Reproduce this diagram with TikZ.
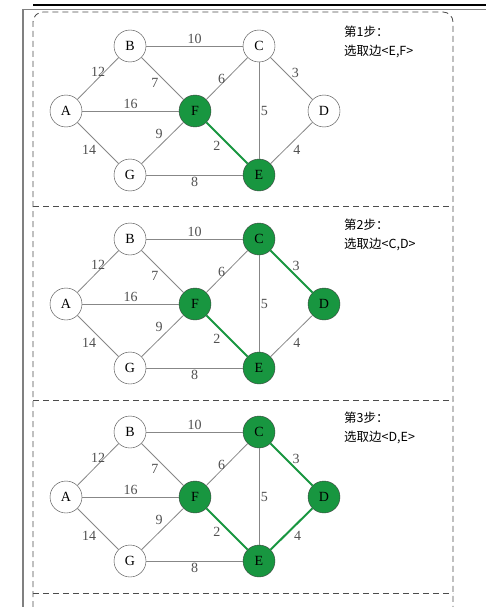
\documentclass[tikz,border=0pt]{standalone}
\usepackage{fontspec}
\setmainfont{Liberation Serif}
\newfontfamily\cjk{Noto Sans CJK SC}
\definecolor{stepgreen}{RGB}{24,150,64}
\definecolor{edgegray}{RGB}{135,135,135}
\definecolor{labelgray}{RGB}{80,80,80}
\begin{document}
\begin{tikzpicture}[x=1pt,y=-1pt,font=\fontsize{14}{16}\selectfont]
        \tikzset{vertex/.style={draw=black!75, circle, minimum size=32pt, inner sep=0pt, fill=white},
                 chosen/.style={vertex, fill=stepgreen},
                 edge/.style={draw=edgegray, line width=0.8pt},
                 tree/.style={draw=stepgreen, line width=2pt},
                 lbl/.style={text=labelgray, inner sep=1.5pt, font=\fontsize{14}{16}\selectfont},
                 note/.style={anchor=north west, align=left, inner sep=0pt, font=\cjk\fontsize{12.5}{19}\selectfont},
                 frame/.style={draw=black!70, line width=0.8pt, dash pattern=on 6pt off 4pt}}
        \useasboundingbox (0,0) rectangle (486,607);
        % page rules and dashed frame
        \draw[line width=2.6pt] (33,5) -- (486,5);
        \draw[black!50, line width=1.3pt] (486,9.5) -- (23,9.5) -- (23,607);
        \draw[frame, rounded corners=10pt] (33,607) -- (33,12) -- (453,12) -- (453,607);
        \draw[frame] (33,206) -- (453,206);
        \draw[frame] (33,400) -- (453,400);
        \draw[frame] (33,593) -- (453,593);
        % step 1
        \node[vertex] (A1) at (66,111) {A};
        \node[vertex] (B1) at (130,46) {B};
        \node[vertex] (C1) at (259,46) {C};
        \node[vertex] (D1) at (324,111) {D};
        \node[chosen] (E1) at (259,175) {E};
        \node[chosen] (F1) at (195,111) {F};
        \node[vertex] (G1) at (130,175) {G};
        \draw[edge] (B1) -- node[lbl,above] {10} (C1);
        \draw[edge] (A1) -- node[lbl,above] {12} (B1);
        \draw[edge] (B1) -- node[lbl,below left,pos=.45] {7} (F1);
        \draw[edge] (F1) -- node[lbl,left] {6} (C1);
        \draw[edge] (C1) -- node[lbl,above right,inner sep=0pt] {3} (D1);
        \draw[edge] (A1) -- node[lbl,above] {16} (F1);
        \draw[edge] (C1) -- node[lbl,right] {5} (E1);
        \draw[tree] (F1) -- node[lbl,below left,pos=.4] {2} (E1);
        \draw[edge] (G1) -- node[lbl,above left,pos=.55] {9} (F1);
        \draw[edge] (A1) -- node[lbl,below left] {14} (G1);
        \draw[edge] (E1) -- node[lbl,below right] {4} (D1);
        \draw[edge] (G1) -- node[lbl,below] {8} (E1);
        \node[note] (s1) at (344,26) {第1步：\\选取边<E,F>};
        % step 2
        \begin{scope}[yshift=-193pt]
        \node[vertex] (A2) at (66,111) {A};
        \node[vertex] (B2) at (130,46) {B};
        \node[chosen] (C2) at (259,46) {C};
        \node[chosen] (D2) at (324,111) {D};
        \node[chosen] (E2) at (259,175) {E};
        \node[chosen] (F2) at (195,111) {F};
        \node[vertex] (G2) at (130,175) {G};
        \draw[edge] (B2) -- node[lbl,above] {10} (C2);
        \draw[edge] (A2) -- node[lbl,above] {12} (B2);
        \draw[edge] (B2) -- node[lbl,below left,pos=.45] {7} (F2);
        \draw[edge] (F2) -- node[lbl,left] {6} (C2);
        \draw[tree] (C2) -- node[lbl,above right,inner sep=0pt] {3} (D2);
        \draw[edge] (A2) -- node[lbl,above] {16} (F2);
        \draw[edge] (C2) -- node[lbl,right] {5} (E2);
        \draw[tree] (F2) -- node[lbl,below left,pos=.4] {2} (E2);
        \draw[edge] (G2) -- node[lbl,above left,pos=.55] {9} (F2);
        \draw[edge] (A2) -- node[lbl,below left] {14} (G2);
        \draw[edge] (E2) -- node[lbl,below right] {4} (D2);
        \draw[edge] (G2) -- node[lbl,below] {8} (E2);
        \node[note] (s2) at (344,26) {第2步：\\选取边<C,D>};
        \end{scope}
        % step 3
        \begin{scope}[yshift=-386pt]
        \node[vertex] (A3) at (66,111) {A};
        \node[vertex] (B3) at (130,46) {B};
        \node[chosen] (C3) at (259,46) {C};
        \node[chosen] (D3) at (324,111) {D};
        \node[chosen] (E3) at (259,175) {E};
        \node[chosen] (F3) at (195,111) {F};
        \node[vertex] (G3) at (130,175) {G};
        \draw[edge] (B3) -- node[lbl,above] {10} (C3);
        \draw[edge] (A3) -- node[lbl,above] {12} (B3);
        \draw[edge] (B3) -- node[lbl,below left,pos=.45] {7} (F3);
        \draw[edge] (F3) -- node[lbl,left] {6} (C3);
        \draw[tree] (C3) -- node[lbl,above right,inner sep=0pt] {3} (D3);
        \draw[edge] (A3) -- node[lbl,above] {16} (F3);
        \draw[edge] (C3) -- node[lbl,right] {5} (E3);
        \draw[tree] (F3) -- node[lbl,below left,pos=.4] {2} (E3);
        \draw[edge] (G3) -- node[lbl,above left,pos=.55] {9} (F3);
        \draw[edge] (A3) -- node[lbl,below left] {14} (G3);
        \draw[tree] (E3) -- node[lbl,below right] {4} (D3);
        \draw[edge] (G3) -- node[lbl,below] {8} (E3);
        \node[note] (s3) at (344,26) {第3步：\\选取边<D,E>};
        \end{scope}
    \end{tikzpicture}
\end{document}
